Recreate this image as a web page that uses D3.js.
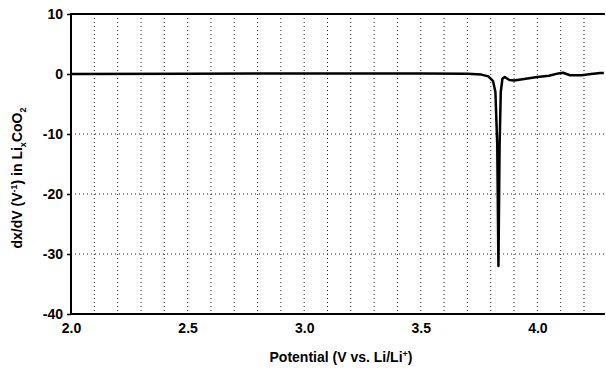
<!DOCTYPE html>
<html>
<head>
<meta charset="utf-8">
<script src="https://cdn.jsdelivr.net/npm/d3@7"></script>
<style>
  body { margin: 0; background: #fff; }
  text { font-family: "Liberation Sans", Arial, sans-serif; font-weight: bold; }
</style>
</head>
<body>
<div id="main"></div>
<script>
// potential (V) and dx/dV values
const potential = [2.0, 2.5, 3.0, 3.5, 3.7, 3.76, 3.79, 3.81, 3.82, 3.828, 3.833, 3.838, 3.843,
    3.85, 3.86, 3.88, 3.9, 3.95, 4.0, 4.05, 4.09, 4.11, 4.14, 4.19, 4.23, 4.27, 4.285];
const dxdv = [0, 0.05, 0.1, 0.1, 0.05, -0.1, -0.4, -1.2, -3, -12, -32, -12, -3,
    -0.8, -0.5, -1.0, -1.1, -0.8, -0.5, -0.3, 0.1, 0.2, -0.2, -0.2, 0, 0.15, 0.15];

const xTicks = [2.0, 2.5, 3.0, 3.5, 4.0];
const yTicks = [10, 0, -10, -20, -30, -40];
const xGrid = [2.1, 2.2, 2.3, 2.4, 2.5, 2.6, 2.7, 2.8, 2.9, 3.0, 3.1, 3.2, 3.3, 3.4, 3.5,
    3.6, 3.7, 3.8, 3.9, 4.0, 4.1, 4.2];
const yGrid = [-10, -20, -30];

const ctx = {
    w: 606,
    h: 371,
    left: 71,
    right: 605,
    top: 14,
    bottom: 314,
};

function createViz() {
    let svg = d3.select("#main").append("svg")
        .attr("width", ctx.w)
        .attr("height", ctx.h);

    let x = d3.scaleLinear().domain([2.0, 4.29]).range([ctx.left, ctx.right]);
    let y = d3.scaleLinear().domain([-40, 10]).range([ctx.bottom, ctx.top]);

    /* dotted grid */
    svg.append("g").selectAll("line")
        .data(xGrid)
        .enter().append("line")
        .attr("x1", d => x(d)).attr("x2", d => x(d))
        .attr("y1", ctx.top).attr("y2", ctx.bottom)
        .style("stroke", "#222")
        .style("stroke-width", 1)
        .style("stroke-dasharray", "1,3");

    svg.append("g").selectAll("line")
        .data(yGrid)
        .enter().append("line")
        .attr("x1", ctx.left).attr("x2", ctx.right)
        .attr("y1", d => y(d)).attr("y2", d => y(d))
        .style("stroke", "#222")
        .style("stroke-width", 1)
        .style("stroke-dasharray", "1,3");

    /* axes */
    let yAxis = svg.append("g")
        .attr("transform", `translate(${ctx.left},0)`)
        .call(d3.axisLeft(y).tickValues(yTicks).tickSize(4).tickPadding(4).tickFormat(d => String(d)));
    yAxis.select(".domain").remove();
    yAxis.selectAll("line").style("stroke-width", 1.5);
    yAxis.selectAll("text").style("font-size", "14px").attr("fill", "#000");

    let xAxis = svg.append("g")
        .attr("transform", `translate(0,${ctx.bottom})`)
        .call(d3.axisBottom(x).tickValues(xTicks).tickSize(0).tickPadding(9).tickFormat(d3.format(".1f")));
    xAxis.select(".domain").remove();
    xAxis.selectAll("text").style("font-size", "14px").attr("fill", "#000");

    /* frame lines */
    svg.append("line")
        .attr("x1", ctx.left).attr("x2", ctx.left)
        .attr("y1", ctx.top - 1).attr("y2", ctx.bottom + 1)
        .style("stroke", "#000").style("stroke-width", 2);
    svg.append("line")
        .attr("x1", ctx.left).attr("x2", ctx.right)
        .attr("y1", ctx.bottom).attr("y2", ctx.bottom)
        .style("stroke", "#000").style("stroke-width", 2);
    svg.append("line")
        .attr("x1", ctx.left).attr("x2", ctx.right)
        .attr("y1", ctx.top).attr("y2", ctx.top)
        .style("stroke", "#000").style("stroke-width", 2);

    /* data line */
    let line = d3.line()
        .x((d, i) => x(potential[i]))
        .y(d => y(d));

    svg.append("path")
        .datum(dxdv)
        .attr("d", line)
        .style("fill", "none")
        .style("stroke", "#000")
        .style("stroke-width", 2.5)
        .style("stroke-linejoin", "round");

    /* axis titles */
    let xt = svg.append("text")
        .attr("x", 341)
        .attr("y", 362)
        .attr("text-anchor", "middle")
        .style("font-size", "14px");
    xt.append("tspan").text("Potential (V vs. Li/Li");
    xt.append("tspan").attr("dy", -5).style("font-size", "9px").text("+");
    xt.append("tspan").attr("dy", 5).text(")");

    let yt = svg.append("text")
        .attr("transform", "translate(22,178) rotate(-90)")
        .attr("text-anchor", "middle")
        .style("font-size", "14px");
    yt.append("tspan").text("dx/dV (V");
    yt.append("tspan").attr("dy", -5).style("font-size", "9px").text("-1");
    yt.append("tspan").attr("dy", 5).text(") in Li");
    yt.append("tspan").attr("dy", 4).style("font-size", "9px").text("x");
    yt.append("tspan").attr("dy", -4).text("CoO");
    yt.append("tspan").attr("dy", 4).style("font-size", "9px").text("2");
}

createViz();
</script>
</body>
</html>
